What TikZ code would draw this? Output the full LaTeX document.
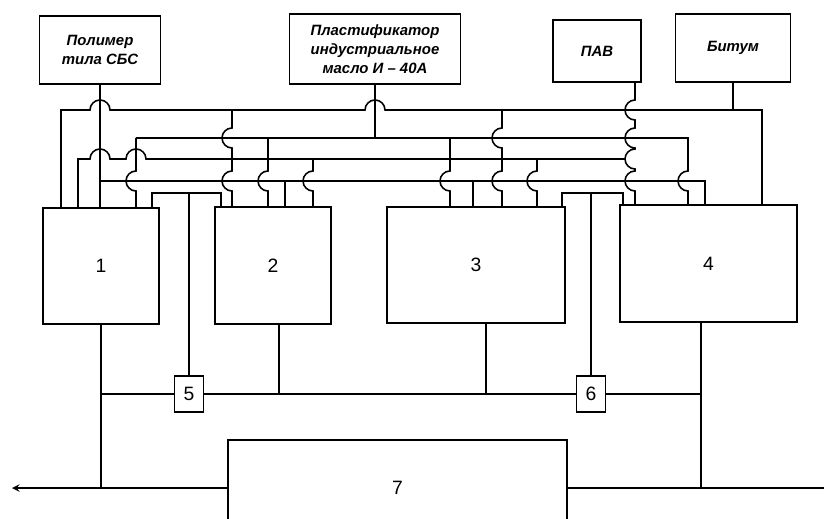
\documentclass[tikz,border=0pt]{standalone}
\usepackage{fontspec}
\setmainfont{Liberation Sans}
\usetikzlibrary{positioning}
\begin{document}
\begin{tikzpicture}[
  x=0.2mm, y=-0.2mm,
  >=stealth,
  line width=0.9pt,
  src/.style={draw,align=center,inner sep=1pt,
              font=\bfseries\itshape\fontsize{8.5}{10.8}\selectfont},
  blk/.style={draw,inner sep=0pt,font=\fontsize{11}{13}\selectfont},
  tag/.style={blk,minimum width=5.8mm,minimum height=7.2mm},
]
\useasboundingbox (0,0) rectangle (824,519);
\clip (0,0) rectangle (824,519);

% feed stock
\node[src,minimum width=24.2mm,minimum height=13.6mm] (poly) at (100,50)
  {Полимер\\тила СБС};
\node[src,minimum width=34.2mm,minimum height=14mm] (plast) at (375,49)
  {Пластификатор\\индустриальное\\масло И – 40А};
\node[src,minimum width=17.6mm,minimum height=12.4mm] (pav) at (597,51) {ПАВ};
\node[src,minimum width=23mm,minimum height=13.6mm] (bit) at (733,48) {Битум};

% units
\node[blk,minimum width=23.2mm,minimum height=23.2mm] (blk1) at (101,266) {1};
\node[blk,minimum width=23.2mm,minimum height=23.4mm] (blk2) at (273,265.5) {2};
\node[blk,minimum width=35.6mm,minimum height=23.2mm] (blk3) at (476,265) {3};
\node[blk,minimum width=35.4mm,minimum height=23.4mm] (blk4) at (708.5,263.5) {4};
\node[tag] (box5) at (189,394) {5};
\node[tag] (box6) at (591,394) {6};
\node[blk,minimum width=67.8mm,minimum height=19.2mm] (blk7) at (397.5,488) {7};

% polymer
\draw (poly.south) -- (poly.south |- blk1.north);
\draw (100,181) -- (705,181) -- (blk4.north -| 705,0);
\draw (285,181) -- (blk2.north -| 285,0);
\draw (473,181) -- (blk3.north -| 473,0);

% bitumen
\draw (bit.south) -- (bit.south |- 0,110);
\draw (blk1.north -| 61,0) -- (61,110) -- (90,110)
  arc[start angle=180,end angle=360,radius=10] -- (365,110)
  arc[start angle=180,end angle=360,radius=10] -- (762,110)
  -- (blk4.north -| 762,0);
\draw (232,110) -- (232,128) arc[start angle=270,end angle=90,radius=10]
  -- (232,171) arc[start angle=270,end angle=90,radius=10]
  -- (blk2.north -| 232,0);
\draw (502,110) -- (502,128) arc[start angle=270,end angle=90,radius=10]
  -- (502,171) arc[start angle=270,end angle=90,radius=10]
  -- (blk3.north -| 502,0);

% plasticiser
\draw (plast.south) -- (plast.south |- 0,138);
\draw (136,138) -- (688,138) -- (688,171)
  arc[start angle=270,end angle=90,radius=10] -- (blk4.north -| 688,0);
\draw (136,138) -- (136,171)
  arc[start angle=270,end angle=90,radius=10] -- (blk1.north -| 136,0);
\draw (268,138) -- (268,171)
  arc[start angle=270,end angle=90,radius=10] -- (blk2.north -| 268,0);
\draw (450,138) -- (450,171)
  arc[start angle=270,end angle=90,radius=10] -- (blk3.north -| 450,0);

% surfactant
\draw (pav.south -| 635,0) -- (635,100)
  arc[start angle=270,end angle=90,radius=10] -- (635,128)
  arc[start angle=270,end angle=90,radius=10] -- (635,149)
  arc[start angle=270,end angle=90,radius=10] -- (635,171)
  arc[start angle=270,end angle=90,radius=10] -- (blk4.north -| 635,0);
\draw (blk1.north -| 78,0) -- (78,159) -- (90,159)
  arc[start angle=180,end angle=360,radius=10] -- (126,159)
  arc[start angle=180,end angle=360,radius=10] -- (625,159);
\draw (313,159) -- (313,171)
  arc[start angle=270,end angle=90,radius=10] -- (blk2.north -| 313,0);
\draw (537,159) -- (537,171)
  arc[start angle=270,end angle=90,radius=10] -- (blk3.north -| 537,0);

% loops through 5 and 6
\draw (blk1.north -| 152,0) -- (152,193) -- (221,193) -- (blk2.north -| 221,0);
\draw (box5.north |- 0,193) -- (box5.north);
\draw (blk3.north -| 562,0) -- (562,193) -- (623,193) -- (blk4.north -| 623,0);
\draw (box6.north |- 0,193) -- (box6.north);

% outlet
\draw (blk1.south) -- (blk1.south |- blk7.west);
\draw (blk1.south |- box5.west) -- (box5.west);
\draw (box5.east) -- (box6.west);
\draw (box6.east) -- (701,394);
\draw (blk2.south -| 279,0) -- (279,394);
\draw (blk3.south -| 486,0) -- (486,394);
\draw (blk4.south -| 701,0) -- (701,488);
\draw[->] (blk7.west) -- (12,488);
\draw (blk7.east) -- (824,488);
\end{tikzpicture}
\end{document}
